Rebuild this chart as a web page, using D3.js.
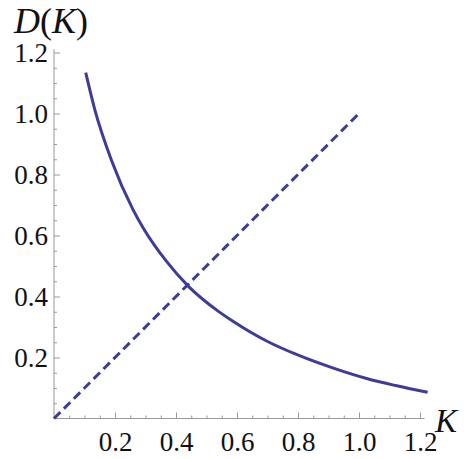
<!DOCTYPE html>
<html>
<head>
<meta charset="utf-8">
<script src="https://cdn.jsdelivr.net/npm/d3@7"></script>
<style>
  body { margin: 0; background: #fff; }
  svg { display: block; }
</style>
</head>
<body>
<div id="chart"></div>
<script>
// values
var curveK = [0.104, 0.134, 0.189, 0.259, 0.293, 0.369, 0.44, 0.538, 0.588, 0.697, 0.807, 0.916, 1.025, 1.12, 1.225];
var curveD = [1.134, 1.012, 0.845, 0.685, 0.624, 0.515, 0.434, 0.352, 0.318, 0.254, 0.205, 0.165, 0.131, 0.108, 0.086];
var diagK = [0, 1];
var diagD = [0, 1];
var majorTicks = [0.2, 0.4, 0.6, 0.8, 1.0, 1.2];
var tickLabels = ["0.2", "0.4", "0.6", "0.8", "1.0", "1.2"];
var minorTicks = [0.05, 0.1, 0.15, 0.25, 0.3, 0.35, 0.45, 0.5, 0.55, 0.65, 0.7, 0.75, 0.85, 0.9, 0.95, 1.05, 1.1, 1.15];

var width = 466,
    height = 459;

var blue = "#3d3d99",
    axisGrey = "#999",
    serif = "'Liberation Serif', 'Times New Roman', serif";

var svg = d3.select("#chart")
  .append("svg")
  .attr("width", width)
  .attr("height", height);

var x = d3.scaleLinear().domain([0, 1]).range([54, 359]);
var y = d3.scaleLinear().domain([0, 1]).range([418.5, 113.5]);

// axis lines, drawn a bit past the last tick like mathematica does
svg.append("line")
  .attr("x1", x(0)).attr("x2", x(1.215))
  .attr("y1", y(0)).attr("y2", y(0))
  .attr("stroke", axisGrey).attr("stroke-width", 1);

svg.append("line")
  .attr("x1", x(0)).attr("x2", x(0))
  .attr("y1", y(0)).attr("y2", y(1.21))
  .attr("stroke", axisGrey).attr("stroke-width", 1);

// ticks point inward, labels are placed by hand below
var xMajor = d3.axisBottom(x).tickValues(majorTicks).tickSize(-6).tickFormat(function(d, i) { return tickLabels[i]; });
var xMinor = d3.axisBottom(x).tickValues(minorTicks).tickSize(-3).tickFormat("");
var yMajor = d3.axisLeft(y).tickValues(majorTicks).tickSize(-6).tickFormat(function(d, i) { return tickLabels[i]; });
var yMinor = d3.axisLeft(y).tickValues(minorTicks).tickSize(-3).tickFormat("");

function styleAxis(g) {
  g.attr("font-family", serif).attr("font-size", 27);
  g.select(".domain").remove();
  g.selectAll(".tick line").attr("stroke", axisGrey);
  g.selectAll(".tick text").attr("fill", "#111");
}

svg.append("g").attr("transform", "translate(0," + y(0) + ")").call(xMinor).call(styleAxis);
svg.append("g").attr("transform", "translate(0," + y(0) + ")").call(xMajor).call(styleAxis)
  .selectAll(".tick text").attr("y", 13).attr("dy", "0.71em");

svg.append("g").attr("transform", "translate(" + x(0) + ",0)").call(yMinor).call(styleAxis);
svg.append("g").attr("transform", "translate(" + x(0) + ",0)").call(yMajor).call(styleAxis)
  .selectAll(".tick text").attr("x", -6).attr("dy", "0.34em");

var line = d3.line()
  .x(function(d) { return x(d[0]); })
  .y(function(d) { return y(d[1]); });

// dashed D = K
svg.append("path")
  .datum(d3.zip(diagK, diagD))
  .attr("d", line)
  .attr("fill", "none")
  .attr("stroke", blue)
  .attr("stroke-width", 3)
  .attr("stroke-dasharray", "9,5");

// D(K) curve
svg.append("path")
  .datum(d3.zip(curveK, curveD))
  .attr("d", line.curve(d3.curveMonotoneX))
  .attr("fill", "none")
  .attr("stroke", blue)
  .attr("stroke-width", 3);

// axis titles
var title = svg.append("text")
  .attr("x", 14)
  .attr("y", 33)
  .attr("fill", "#111")
  .attr("font-family", serif)
  .attr("font-size", 36);
title.append("tspan").attr("font-style", "italic").text("D");
title.append("tspan").text("(");
title.append("tspan").attr("font-style", "italic").text("K");
title.append("tspan").text(")");

svg.append("text")
  .attr("x", 435)
  .attr("y", 432)
  .attr("fill", "#111")
  .attr("font-family", serif)
  .attr("font-size", 33)
  .attr("font-style", "italic")
  .text("K");
</script>
</body>
</html>
